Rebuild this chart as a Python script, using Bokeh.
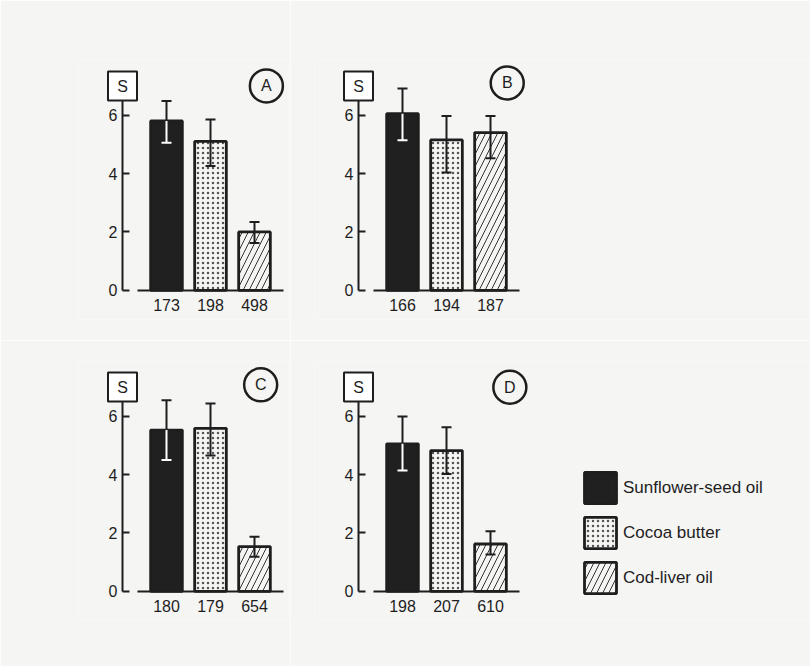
from bokeh.plotting import figure
from bokeh.models import FixedTicker, Legend, LegendItem
from bokeh.layouts import column, row
from bokeh.embed import file_html
from bokeh.resources import INLINE
from bokeh.core.properties import value

# ---------------- data ----------------
series_names = ["Sunflower-seed oil", "Cocoa butter", "Cod-liver oil"]
panel_letters = ["A", "B", "C", "D"]
y_ticks = [0, 2, 4, 6]

counts_A = [173, 198, 498]
means_A = [5.80, 5.10, 2.00]
upper_A = [6.48, 5.85, 2.34]
lower_A = [5.05, 4.26, 1.62]

counts_B = [166, 194, 187]
means_B = [6.05, 5.15, 5.40]
upper_B = [6.91, 5.97, 5.97]
lower_B = [5.14, 4.03, 4.52]

counts_C = [180, 179, 654]
means_C = [5.52, 5.58, 1.53]
upper_C = [6.54, 6.43, 1.87]
lower_C = [4.50, 4.65, 1.18]

counts_D = [198, 207, 610]
means_D = [5.05, 4.82, 1.62]
upper_D = [5.99, 5.62, 2.06]
lower_D = [4.14, 4.02, 1.26]

# ---------------- style ----------------
PAPER = "#f5f5f4"
INK = "#1e1e1e"
BAR_DARK = "#202020"
FONT = "Liberation Sans"
PX_X = 44.0     # px per x unit
PX_Y = 29.2     # px per y unit

bar_fill = [BAR_DARK, PAPER, PAPER]
bar_hatch = [None, "dot", "/"]
bar_hatch_scale = [12, 5, 12]
bar_hatch_color = [INK, "#555555", "#333333"]
err_low_color = ["white", INK, INK]


def make_panel(letter, counts, means, upper, lower, wide, top_row, letter_xy, with_legend=False):
    if wide:
        W, bl, br = 520, 24, 2
    else:
        W, bl, br = 290, 78, 2
    if top_row:
        H, bt, bb = 340, 60, 21
    else:
        H, bt, bb = 326, 21, 46
    fw = W - bl - br
    fh = H - bt - bb
    x_start = -1.0
    y_start = -1.0
    p = figure(width=W, height=H,
               x_range=(x_start, x_start + fw / PX_X),
               y_range=(y_start, y_start + fh / PX_Y),
               min_border_left=bl, min_border_right=br, min_border_top=bt,
               min_border_bottom=bb, output_backend="svg", toolbar_location=None)
    p.background_fill_color = PAPER
    p.border_fill_color = PAPER
    p.outline_line_color = None
    p.xgrid.visible = False
    p.ygrid.visible = False

    xs = [1, 2, 3]
    renderers = []
    for i in range(3):
        kw = dict(x=[xs[i]], top=[means[i]], bottom=0, width=0.72,
                  fill_color=bar_fill[i], line_color=INK, line_width=2.8)
        if bar_hatch[i]:
            kw.update(hatch_pattern=bar_hatch[i], hatch_color=bar_hatch_color[i],
                      hatch_scale=bar_hatch_scale[i], hatch_weight=1.0)
        renderers.append(p.vbar(**kw))

    # error bars
    p.segment(x0=xs, y0=means, x1=xs, y1=upper, line_color=INK, line_width=2)
    p.segment(x0=xs, y0=lower, x1=xs, y1=means, line_color=err_low_color, line_width=2)
    p.scatter(x=xs, y=upper, marker="dash", size=10, line_color=INK, line_width=2)
    p.scatter(x=xs, y=lower, marker="dash", size=10, line_color=err_low_color, line_width=2)

    # x axis at y = 0: counts under bars
    xa = p.xaxis[0]
    xa.fixed_location = 0
    xa.ticker = FixedTicker(ticks=xs)
    xa.major_label_overrides = {xs[i]: str(counts[i]) for i in range(3)}
    xa.bounds = (0.35, 3.67)
    xa.axis_line_width = 2
    xa.axis_line_color = INK
    xa.major_tick_line_color = None
    xa.minor_tick_line_color = None
    xa.major_label_standoff = 3
    xa.major_label_text_font = FONT
    xa.major_label_text_font_size = "16px"
    xa.major_label_text_color = INK

    # y axis at x = 0
    ya = p.yaxis[0]
    ya.fixed_location = 0
    ya.ticker = FixedTicker(ticks=y_ticks)
    ya.bounds = (0, 6.5)
    ya.axis_line_width = 2
    ya.axis_line_color = INK
    ya.major_tick_in = 7
    ya.major_tick_out = 0
    ya.major_tick_line_width = 2
    ya.major_tick_line_color = INK
    ya.minor_tick_line_color = None
    ya.major_label_standoff = 5
    ya.major_label_text_font = FONT
    ya.major_label_text_font_size = "16px"
    ya.major_label_text_color = INK

    # "S" box on top of y axis
    sy = 6.5 + 14.5 / PX_Y
    p.scatter(x=[0], y=[sy], marker="square", size=29, fill_color="white",
              line_color=INK, line_width=2)
    p.text(x=[0], y=[sy], text=["S"], text_align="center", text_baseline="middle",
           text_font=value(FONT), text_font_size="16px", text_color=INK)

    # panel letter in a circle
    lx, ly = letter_xy
    p.scatter(x=[lx], y=[ly], marker="circle", size=33, fill_color=None,
              line_color=INK, line_width=2.5)
    p.text(x=[lx], y=[ly], text=[letter], text_align="center", text_baseline="middle",
           text_font=value(FONT), text_font_size="16px", text_color=INK)

    if with_legend:
        items = [LegendItem(label=series_names[i], renderers=[renderers[i]]) for i in range(3)]
        leg = Legend(items=items, location=(266, 23), orientation="vertical",
                     glyph_width=40, glyph_height=39, label_height=39, spacing=6,
                     label_standoff=3, padding=0, margin=0,
                     border_line_color=None, background_fill_alpha=0,
                     label_text_font=FONT, label_text_font_size="17px",
                     label_text_color=INK)
        p.add_layout(leg)
    return p


pA = make_panel(panel_letters[0], counts_A, means_A, upper_A, lower_A, False, True, (3.27, 7.0))
pB = make_panel(panel_letters[1], counts_B, means_B, upper_B, lower_B, True, True, (3.38, 7.1))
pC = make_panel(panel_letters[2], counts_C, means_C, upper_C, lower_C, False, False, (3.14, 7.07))
pD = make_panel(panel_letters[3], counts_D, means_D, upper_D, lower_D, True, False, (3.44, 6.99), True)

layout = column(row(pA, pB, spacing=0), row(pC, pD, spacing=0), spacing=0)
open("out.html", "w").write(file_html(layout, INLINE))
